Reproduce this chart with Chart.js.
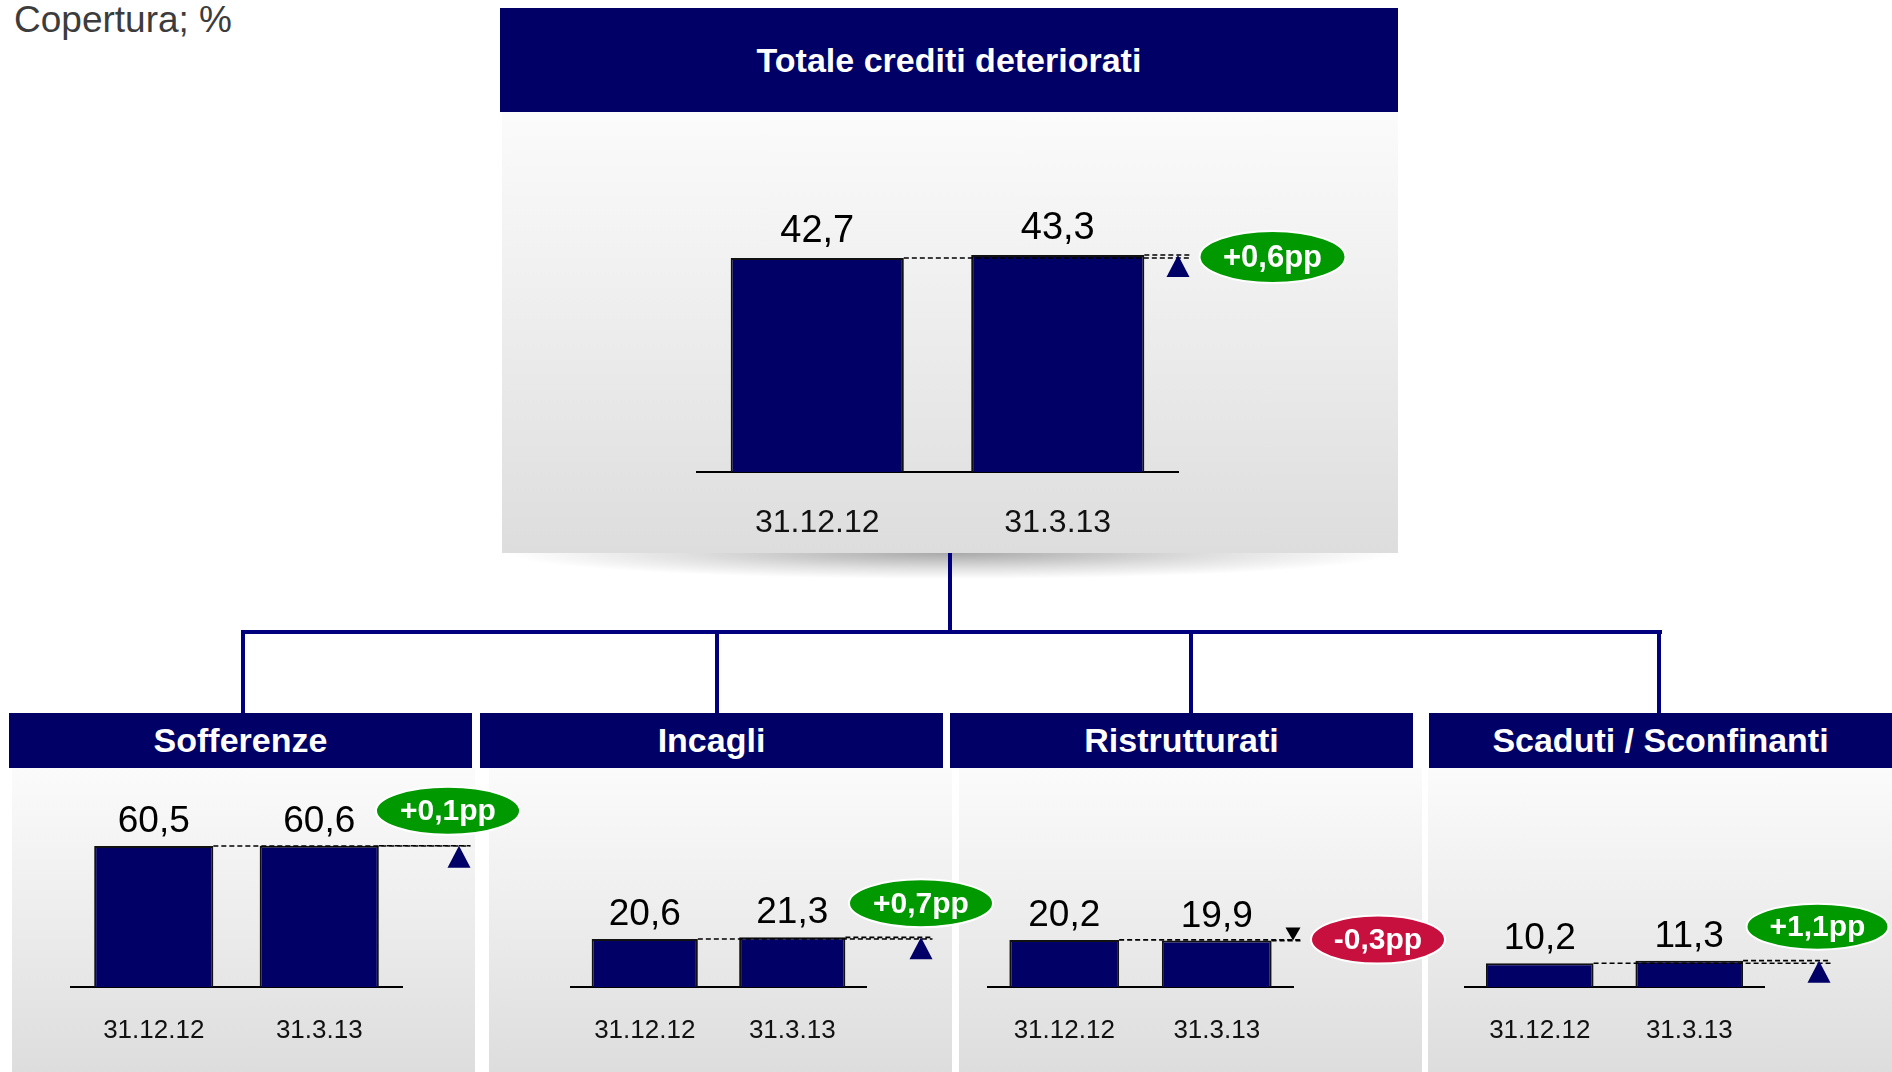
<!DOCTYPE html>
<html lang="it">
<head>
<meta charset="utf-8">
<title>Copertura crediti deteriorati</title>
<script src="https://cdn.jsdelivr.net/npm/chart.js@4.4.1/dist/chart.umd.min.js"></script>
<style>
  html, body {
    margin: 0;
    padding: 0;
    background: #ffffff;
  }
  body {
    position: relative;
    width: 1892px;
    height: 1072px;
    overflow: hidden;
    font-family: "Liberation Sans", Arial, sans-serif;
  }
  .caption {
    position: absolute;
    left: 14px;
    top: -1px;
    font-size: 37px;
    color: #3c3c3c;
    white-space: nowrap;
  }
  .header {
    position: absolute;
    background: #000066;
    color: #ffffff;
    font-weight: bold;
    font-size: 34px;
    display: flex;
    align-items: center;
    justify-content: center;
    white-space: nowrap;
  }
  .body {
    position: absolute;
    background: linear-gradient(to bottom, #fbfbfb 0%, #f1f1f1 35%, #dddddd 100%);
  }
  .shadow {
    position: absolute;
    background: radial-gradient(ellipse 50% 100% at 50% 0%, rgba(0,0,0,0.34) 0%, rgba(0,0,0,0.12) 60%, rgba(0,0,0,0) 100%);
  }
  .link {
    position: absolute;
    background: #00007f;
  }
  canvas {
    position: absolute;
    z-index: 5;
  }
</style>
</head>
<body>
<div class="caption">Copertura; %</div>

<script>
// ---- data ----
const categories = ['31.12.12', '31.3.13'];
const panelTitles = ['Totale crediti deteriorati', 'Sofferenze', 'Incagli', 'Ristrutturati', 'Scaduti / Sconfinanti'];
const totale = [42.7, 43.3];
const sofferenze = [60.5, 60.6];
const incagli = [20.6, 21.3];
const ristrutturati = [20.2, 19.9];
const scaduti = [10.2, 11.3];

const seriesValues = [totale, sofferenze, incagli, ristrutturati, scaduti];

// ---- layout (page pixels) ----
const NAVY = '#000066';
const FONT = '"Liberation Sans", Arial, sans-serif';

const layouts = [
  { header: [500, 8, 898, 104], body: [502, 112, 896, 441],
    canvas: [502, 112, 896, 441], axis: [697, 1178, 472], pxPerUnit: 5.012, yMax: 60,
    tickSize: 32, tickPad: 32, valueSize: 38, labelGap: 16,
    markerOffset: 0, bubble: { dx: 94.5, dy: 2, rx: 73, ry: 26, font: 31 } },
  { header: [9, 713, 463, 55], body: [12, 768, 463, 304],
    canvas: [9, 768, 520, 304], axis: [71, 402, 987], pxPerUnit: 2.331, yMax: 80,
    tickSize: 26, tickPad: 28, valueSize: 37, labelGap: 14,
    markerOffset: 57, bubble: { dx: -11, dy: -35, rx: 72, ry: 24, font: 30 } },
  { header: [480, 713, 463, 55], body: [489, 768, 463, 304],
    canvas: [480, 768, 520, 304], axis: [571, 866, 987], pxPerUnit: 2.331, yMax: 80,
    tickSize: 26, tickPad: 28, valueSize: 37, labelGap: 14,
    markerOffset: 55, bubble: { dx: 0, dy: -34, rx: 72, ry: 24, font: 30 } },
  { header: [950, 713, 463, 55], body: [959, 768, 463, 304],
    canvas: [950, 768, 500, 304], axis: [988, 1293, 987], pxPerUnit: 2.331, yMax: 80,
    tickSize: 26, tickPad: 28, valueSize: 37, labelGap: 14,
    markerOffset: 0, bubble: { dx: 85, dy: -1, rx: 67, ry: 24, font: 30 } },
  { header: [1429, 713, 463, 55], body: [1428, 768, 464, 304],
    canvas: [1428, 768, 464, 304], axis: [1465, 1764, 987], pxPerUnit: 2.331, yMax: 80,
    tickSize: 26, tickPad: 28, valueSize: 37, labelGap: 14,
    markerOffset: 55, bubble: { dx: -1.5, dy: -34, rx: 71, ry: 23, font: 30 } }
];

// tree connectors: [x, y, w, h]
const links = [
  [948, 553, 4, 81],
  [241, 630, 1421, 4],
  [241, 630, 4, 83],
  [715, 630, 4, 83],
  [1189, 630, 4, 83],
  [1657, 630, 4, 83]
];

function place(el, r) {
  el.style.left = r[0] + 'px';
  el.style.top = r[1] + 'px';
  el.style.width = r[2] + 'px';
  el.style.height = r[3] + 'px';
}

function fmt(v) {
  return v.toFixed(1).replace('.', ',');
}

function fmtDelta(d) {
  return (d > 0 ? '+' : '') + d.toFixed(1).replace('.', ',') + 'pp';
}

// Value labels, dashed guides, arrow and change bubble
const changeMarkers = {
  id: 'changeMarkers',
  afterDatasetsDraw(chart, args, opts) {
    const ctx = chart.ctx;
    const values = chart.data.datasets[0].data;
    const bars = chart.getDatasetMeta(0).data;
    const yScale = chart.scales.y;
    const y1 = yScale.getPixelForValue(values[0]);
    const y2 = yScale.getPixelForValue(values[1]);
    const delta = Math.round((values[1] - values[0]) * 10) / 10;
    const up = delta >= 0;

    ctx.save();

    // values above the bars
    ctx.fillStyle = '#000000';
    ctx.font = opts.valueSize + 'px ' + FONT;
    ctx.textAlign = 'center';
    ctx.textBaseline = 'alphabetic';
    bars.forEach((bar, i) => {
      ctx.fillText(fmt(values[i]), bar.x, bar.y - opts.labelGap);
    });

    // arrow marker geometry
    const mx = chart.chartArea.right + opts.markerOffset;
    const tw = up ? 23 : 15;
    const th = up ? 22 : 13;
    const lineEnd = mx + tw / 2;

    // dashed guides from each bar top
    ctx.strokeStyle = '#000000';
    ctx.lineWidth = 1.6;
    ctx.setLineDash([5, 3]);
    ctx.beginPath();
    ctx.moveTo(bars[0].x + bars[0].width / 2, y1);
    ctx.lineTo(lineEnd, y1);
    ctx.moveTo(bars[1].x + bars[1].width / 2, y2);
    ctx.lineTo(lineEnd, y2);
    ctx.stroke();
    ctx.setLineDash([]);

    // arrow
    ctx.beginPath();
    if (up) {
      ctx.moveTo(mx, y2);
      ctx.lineTo(mx + tw / 2, y2 + th);
      ctx.lineTo(mx - tw / 2, y2 + th);
      ctx.fillStyle = NAVY;
    } else {
      ctx.moveTo(mx, y2);
      ctx.lineTo(mx + tw / 2, y2 - th);
      ctx.lineTo(mx - tw / 2, y2 - th);
      ctx.fillStyle = '#000000';
    }
    ctx.closePath();
    ctx.fill();

    // change bubble
    const b = opts.bubble;
    const bx = mx + b.dx;
    const by = y2 + b.dy;
    ctx.beginPath();
    ctx.ellipse(bx, by, b.rx, b.ry, 0, 0, Math.PI * 2);
    ctx.fillStyle = up ? '#009900' : '#c8103e';
    ctx.fill();
    ctx.lineWidth = 2;
    ctx.strokeStyle = '#ffffff';
    ctx.stroke();

    ctx.fillStyle = '#ffffff';
    ctx.font = 'bold ' + b.font + 'px ' + FONT;
    ctx.textAlign = 'center';
    ctx.textBaseline = 'middle';
    ctx.fillText(fmtDelta(delta), bx, by + 1);

    ctx.restore();
  }
};

Chart.defaults.font.family = FONT;

function buildPanel(idx) {
  const lay = layouts[idx];

  const head = document.createElement('div');
  head.className = 'header';
  head.textContent = panelTitles[idx];
  place(head, lay.header);
  document.body.appendChild(head);

  const body = document.createElement('div');
  body.className = 'body';
  place(body, lay.body);
  document.body.appendChild(body);
}

function buildChart(idx) {
  const lay = layouts[idx];
  const [cx, cy, cw, ch] = lay.canvas;
  const [axL, axR, base] = lay.axis;

  const canvas = document.createElement('canvas');
  canvas.width = cw;
  canvas.height = ch;
  canvas.style.left = cx + 'px';
  canvas.style.top = cy + 'px';
  document.body.appendChild(canvas);

  const plotBottom = base - cy;
  const axisHeight = ch - plotBottom;
  const padTop = plotBottom - lay.yMax * lay.pxPerUnit;

  return new Chart(canvas, {
    type: 'bar',
    data: {
      labels: categories,
      datasets: [{
        data: seriesValues[idx],
        backgroundColor: NAVY,
        borderColor: '#111111',
        borderWidth: 2,
        borderSkipped: 'bottom',
        barPercentage: 0.72,
        categoryPercentage: 1
      }]
    },
    options: {
      responsive: false,
      animation: false,
      devicePixelRatio: 1,
      layout: {
        padding: { left: axL - cx, right: cx + cw - axR, top: padTop, bottom: 0 }
      },
      plugins: {
        legend: { display: false },
        tooltip: { enabled: false },
        changeMarkers: {
          valueSize: lay.valueSize,
          labelGap: lay.labelGap,
          markerOffset: lay.markerOffset,
          bubble: lay.bubble
        }
      },
      scales: {
        x: {
          grid: { display: false, drawTicks: false },
          border: { display: true, color: '#000000', width: 2 },
          ticks: {
            color: '#111111',
            padding: lay.tickPad,
            font: { size: lay.tickSize }
          },
          afterFit(scale) {
            scale.height = axisHeight;
          }
        },
        y: {
          display: false,
          min: 0,
          max: lay.yMax
        }
      }
    },
    plugins: [changeMarkers]
  });
}

// panel backgrounds first, charts on top
layouts.forEach((lay, i) => buildPanel(i));

const shadow = document.createElement('div');
shadow.className = 'shadow';
place(shadow, [506, 553, 888, 26]);
document.body.appendChild(shadow);

links.forEach(r => {
  const el = document.createElement('div');
  el.className = 'link';
  place(el, r);
  document.body.appendChild(el);
});

layouts.forEach((lay, i) => buildChart(i));
</script>
</body>
</html>
